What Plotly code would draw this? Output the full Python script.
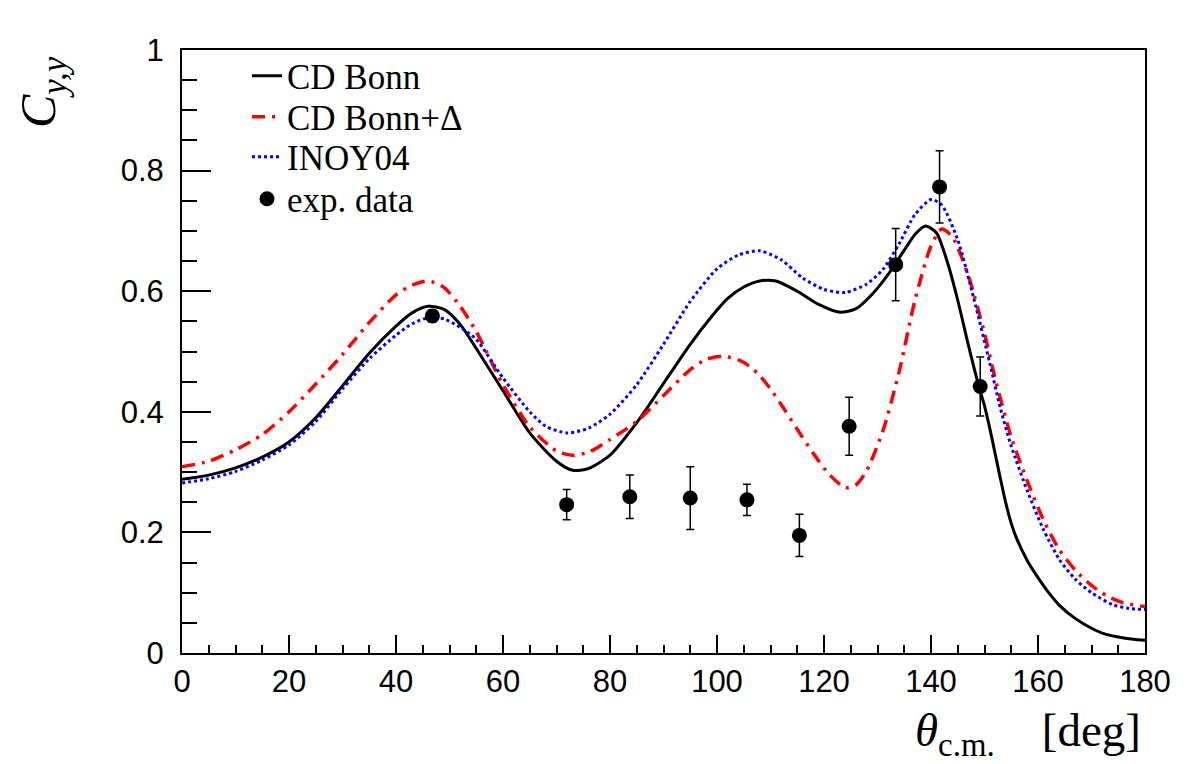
import plotly.graph_objects as go

# CD Bonn (solid black)
theta_bonn = [0, 5, 10, 15, 20, 25, 30, 35, 40, 43, 46, 49, 52, 55, 60, 65, 70, 73, 76, 80, 85,
              90, 95, 99, 102, 105, 108, 111, 115, 119, 123, 126, 129, 132, 135, 137, 139, 141,
              143, 145, 147, 149, 150, 151, 152, 153, 154, 155, 156, 158, 160, 162, 164, 167,
              170, 172, 176, 180]
cyy_bonn = [0.288, 0.295, 0.307, 0.325, 0.350, 0.390, 0.443, 0.497, 0.542, 0.564, 0.575, 0.570,
            0.545, 0.505, 0.435, 0.365, 0.318, 0.303, 0.306, 0.328, 0.382, 0.447, 0.512, 0.558,
            0.588, 0.607, 0.617, 0.617, 0.600, 0.578, 0.565, 0.571, 0.595, 0.628, 0.668, 0.694,
            0.708, 0.697, 0.650, 0.585, 0.510, 0.440, 0.410, 0.372, 0.330, 0.288, 0.248, 0.215,
            0.190, 0.153, 0.125, 0.100, 0.079, 0.057, 0.041, 0.033, 0.025, 0.021]

# CD Bonn + Delta (red dash-dot)
theta_delta = [0, 5, 10, 15, 20, 25, 30, 35, 40, 43, 46, 49, 52, 55, 60, 65, 70, 73, 76, 80, 85,
               90, 95, 98, 101, 104, 106, 108, 110, 112, 115, 118, 121, 124, 126, 128, 131, 134,
               137, 140, 142, 144, 147, 150, 152, 155, 158, 161, 164, 167, 170, 173, 176, 180]
cyy_delta = [0.309, 0.318, 0.337, 0.362, 0.400, 0.446, 0.495, 0.548, 0.594, 0.610, 0.617, 0.606,
             0.575, 0.533, 0.445, 0.375, 0.335, 0.328, 0.333, 0.354, 0.384, 0.427, 0.470, 0.487,
             0.492, 0.486, 0.476, 0.460, 0.438, 0.412, 0.371, 0.331, 0.296, 0.274, 0.279, 0.303,
             0.368, 0.465, 0.585, 0.675, 0.703, 0.690, 0.625, 0.530, 0.455, 0.358, 0.285, 0.221,
             0.171, 0.137, 0.112, 0.094, 0.083, 0.077]

# INOY04 (blue dotted)
theta_inoy = [0, 5, 10, 15, 20, 25, 30, 35, 40, 43, 46, 49, 52, 55, 60, 65, 68, 72, 76, 80, 85,
              90, 95, 100, 104, 108, 112, 116, 120, 124, 128, 131, 134, 137, 140, 142, 145, 148,
              151, 153, 155, 158, 161, 164, 167, 170, 174, 177, 180]
cyy_inoy = [0.282, 0.289, 0.301, 0.320, 0.345, 0.384, 0.438, 0.488, 0.527, 0.546, 0.556, 0.554,
            0.540, 0.520, 0.456, 0.400, 0.376, 0.365, 0.373, 0.396, 0.445, 0.512, 0.583, 0.637,
            0.660, 0.667, 0.652, 0.622, 0.603, 0.598, 0.612, 0.636, 0.678, 0.727, 0.752, 0.743,
            0.685, 0.588, 0.480, 0.405, 0.343, 0.269, 0.205, 0.155, 0.122, 0.100, 0.080, 0.074,
            0.072]

# experimental data
theta_exp = [46.8, 71.9, 83.7, 95.0, 105.6, 115.4, 124.7, 133.4, 141.6, 149.2]
cyy_exp = [0.559, 0.246, 0.259, 0.257, 0.254, 0.195, 0.376, 0.644, 0.773, 0.442]
cyy_err = [0.010, 0.025, 0.036, 0.052, 0.026, 0.035, 0.048, 0.060, 0.060, 0.049]

series_names = ['CD Bonn', 'CD Bonn+Δ', 'INOY04', 'exp. data']
legend_keys = ['legend', 'legend2', 'legend3', 'legend4']
legend_rows = [76, 117, 157, 199]   # screen y of each legend row

# the page has an 8px body margin, so the figure is a little smaller than the window
W, H = 1186, 756
L, R, T, B = 174, 49, 42, 111
OFF = 8

serif = 'Liberation Serif'


def px(sx):
    # screen x pixel -> paper coordinate
    return (sx - OFF - L) / (W - L - R)


def py(sy):
    # screen y pixel -> paper coordinate
    return (H - B - (sy - OFF)) / (H - T - B)


fig = go.Figure()

fig.add_trace(go.Scatter(x=theta_bonn, y=cyy_bonn, mode='lines', name=series_names[0],
                         legend=legend_keys[0],
                         line=dict(color='black', width=3, shape='spline', smoothing=0.7)))
fig.add_trace(go.Scatter(x=theta_delta, y=cyy_delta, mode='lines', name=series_names[1],
                         legend=legend_keys[1],
                         line=dict(color='#ff0000', width=3.5, shape='spline', smoothing=0.7,
                                   dash='13px,7px,3px,7px')))
fig.add_trace(go.Scatter(x=theta_inoy, y=cyy_inoy, mode='lines', name=series_names[2],
                         legend=legend_keys[2],
                         line=dict(color='#0000ff', width=3, shape='spline', smoothing=0.7,
                                   dash='3px,3px')))
fig.add_trace(go.Scatter(x=theta_exp, y=cyy_exp, mode='markers', name=series_names[3],
                         legend=legend_keys[3],
                         marker=dict(color='black', size=15),
                         error_y=dict(type='data', array=cyy_err, color='black',
                                      thickness=1.5, width=4)))

axis_font = dict(family='Liberation Sans', size=31, color='black')

fig.update_xaxes(range=[0, 180], dtick=20, tick0=0, ticks='inside', ticklen=18, tickwidth=1.5,
                 tickcolor='black', showline=True, linecolor='black', linewidth=2, mirror=True,
                 showgrid=False, zeroline=False, tickfont=axis_font,
                 minor=dict(dtick=5, ticks='inside', ticklen=8, tickwidth=1.5, tickcolor='black',
                            showgrid=False))
fig.update_yaxes(range=[0, 1], dtick=0.2, tick0=0, ticks='inside', ticklen=29, tickwidth=1.5,
                 tickcolor='black', showline=True, linecolor='black', linewidth=2, mirror=True,
                 showgrid=False, zeroline=False, tickfont=axis_font, ticklabelstandoff=10,
                 minor=dict(dtick=0.05, ticks='inside', ticklen=15, tickwidth=1.5, tickcolor='black',
                            showgrid=False))

fig.update_layout(
    width=W, height=H,
    margin=dict(l=L, r=R, t=T, b=B),
    font=dict(family=serif, size=35, color='black'),
    paper_bgcolor='white', plot_bgcolor='white',
    showlegend=True,
    annotations=[
        dict(text='<i>C</i><sub><i>y,y</i></sub>', xref='paper', yref='paper',
             x=px(42), y=py(92), xanchor='center', yanchor='middle', textangle=-90,
             showarrow=False, font=dict(family=serif, size=50, color='black')),
        dict(text='<i>θ</i><sub>c.m.</sub>\u00a0\u00a0\u00a0\u00a0[deg]', xref='paper', yref='paper',
             x=px(1143), y=py(733), xanchor='right', yanchor='middle',
             showarrow=False, font=dict(family=serif, size=47, color='black')),
    ],
)

# one legend per row so the rows sit where the reference has them
for key, row_y in zip(legend_keys, legend_rows):
    fig.update_layout({key: dict(x=px(247), y=py(row_y), xanchor='left', yanchor='middle',
                                 bgcolor='rgba(0,0,0,0)', borderwidth=0,
                                 font=dict(family=serif, size=35, color='black'))})

fig.write_html("out.html")
